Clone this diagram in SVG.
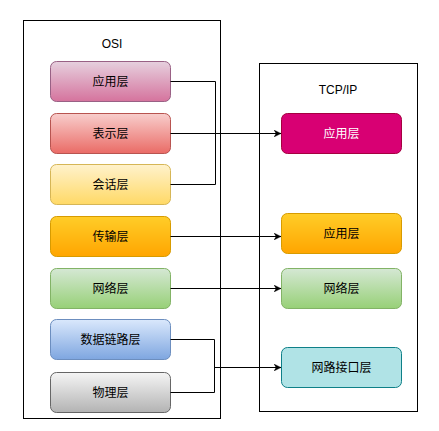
<svg xmlns="http://www.w3.org/2000/svg" width="439" height="431" viewBox="0 0 439 431">
<style>
text{font-family:"Liberation Sans","Noto Sans CJK SC",sans-serif;font-size:12px;text-anchor:middle;dominant-baseline:central;fill:#000}
.cont{fill:#fff;stroke:#000;stroke-width:1}
.box{stroke-width:1}
.conn path{fill:none;stroke:#000;stroke-width:1}
</style>
<defs>
<linearGradient id="g1" x1="0" y1="0" x2="0" y2="1"><stop offset="0" stop-color="#e6d0de"/><stop offset="1" stop-color="#d5739d"/></linearGradient>
<linearGradient id="g2" x1="0" y1="0" x2="0" y2="1"><stop offset="0" stop-color="#f8cecc"/><stop offset="1" stop-color="#ea6b66"/></linearGradient>
<linearGradient id="g3" x1="0" y1="0" x2="0" y2="1"><stop offset="0" stop-color="#fff2cc"/><stop offset="1" stop-color="#ffd966"/></linearGradient>
<linearGradient id="g4" x1="0" y1="0" x2="0" y2="1"><stop offset="0" stop-color="#ffcd28"/><stop offset="1" stop-color="#ffa500"/></linearGradient>
<linearGradient id="g5" x1="0" y1="0" x2="0" y2="1"><stop offset="0" stop-color="#d5e8d4"/><stop offset="1" stop-color="#97d077"/></linearGradient>
<linearGradient id="g6" x1="0" y1="0" x2="0" y2="1"><stop offset="0" stop-color="#dae8fc"/><stop offset="1" stop-color="#7ea6e0"/></linearGradient>
<linearGradient id="g7" x1="0" y1="0" x2="0" y2="1"><stop offset="0" stop-color="#f5f5f5"/><stop offset="1" stop-color="#b3b3b3"/></linearGradient>
<marker id="arr" viewBox="0 0 10 10" refX="10" refY="5" markerWidth="7" markerHeight="7" markerUnits="userSpaceOnUse" orient="auto"><path d="M0,0 L10,5 L0,10 L3,5 Z" fill="#000" stroke="#000" stroke-width="0.5"/></marker>
</defs>
<rect width="439" height="431" fill="#fff"/>
<g id="osi">
<rect class="cont" x="23.5" y="20.5" width="197" height="398"/>
<text x="112" y="44">OSI</text>
</g>
<g id="tcpip">
<rect class="cont" x="259.5" y="63.5" width="158" height="348"/>
<text x="338" y="90">TCP/IP</text>
</g>
<g id="osi-app"><rect class="box" x="50.5" y="61.5" width="120" height="40" rx="6" fill="url(#g1)" stroke="#996185"/><text x="110.5" y="81.5">应用层</text></g>
<g id="osi-pres"><rect class="box" x="50.5" y="113.5" width="120" height="40" rx="6" fill="url(#g2)" stroke="#b85450"/><text x="110.5" y="133.5">表示层</text></g>
<g id="osi-sess"><rect class="box" x="50.5" y="164.5" width="120" height="40" rx="6" fill="url(#g3)" stroke="#d6b656"/><text x="110.5" y="184.5">会话层</text></g>
<g id="osi-trans"><rect class="box" x="50.5" y="216.5" width="120" height="40" rx="6" fill="url(#g4)" stroke="#d79b00"/><text x="110.5" y="236.5">传输层</text></g>
<g id="osi-net"><rect class="box" x="50.5" y="268.5" width="120" height="40" rx="6" fill="url(#g5)" stroke="#82b366"/><text x="110.5" y="288.5">网络层</text></g>
<g id="osi-link"><rect class="box" x="50.5" y="319.5" width="120" height="40" rx="6" fill="url(#g6)" stroke="#6c8ebf"/><text x="110.5" y="339.5">数据链路层</text></g>
<g id="osi-phys"><rect class="box" x="50.5" y="372.5" width="120" height="40" rx="6" fill="url(#g7)" stroke="#666666"/><text x="110.5" y="392.5">物理层</text></g>
<g id="tcp-app"><rect class="box" x="281.5" y="113.5" width="120" height="40" rx="6" fill="#d80073" stroke="#a50040"/><text x="341.5" y="133.5" style="fill:#fff">应用层</text></g>
<g id="tcp-trans"><rect class="box" x="281.5" y="213.5" width="120" height="40" rx="6" fill="url(#g4)" stroke="#d79b00"/><text x="341.5" y="233.5">应用层</text></g>
<g id="tcp-net"><rect class="box" x="281.5" y="268.5" width="120" height="40" rx="6" fill="url(#g5)" stroke="#82b366"/><text x="341.5" y="288.5">网络层</text></g>
<g id="tcp-link"><rect class="box" x="281.5" y="347.5" width="120" height="40" rx="6" fill="#b0e3e6" stroke="#0e8088"/><text x="341.5" y="367.5">网路接口层</text></g>
<g class="conn" id="connectors">
<path d="M170.5,81.5 H215.5 V184.5 H170.5"/>
<path d="M170.5,133.5 H281" marker-end="url(#arr)"/>
<path d="M170.5,236.5 H281" marker-end="url(#arr)"/>
<path d="M170.5,288.5 H281" marker-end="url(#arr)"/>
<path d="M170.5,339.5 H214.5 V392.5 H170.5"/>
<path d="M214.5,367.5 H281" marker-end="url(#arr)"/>
</g>
</svg>
